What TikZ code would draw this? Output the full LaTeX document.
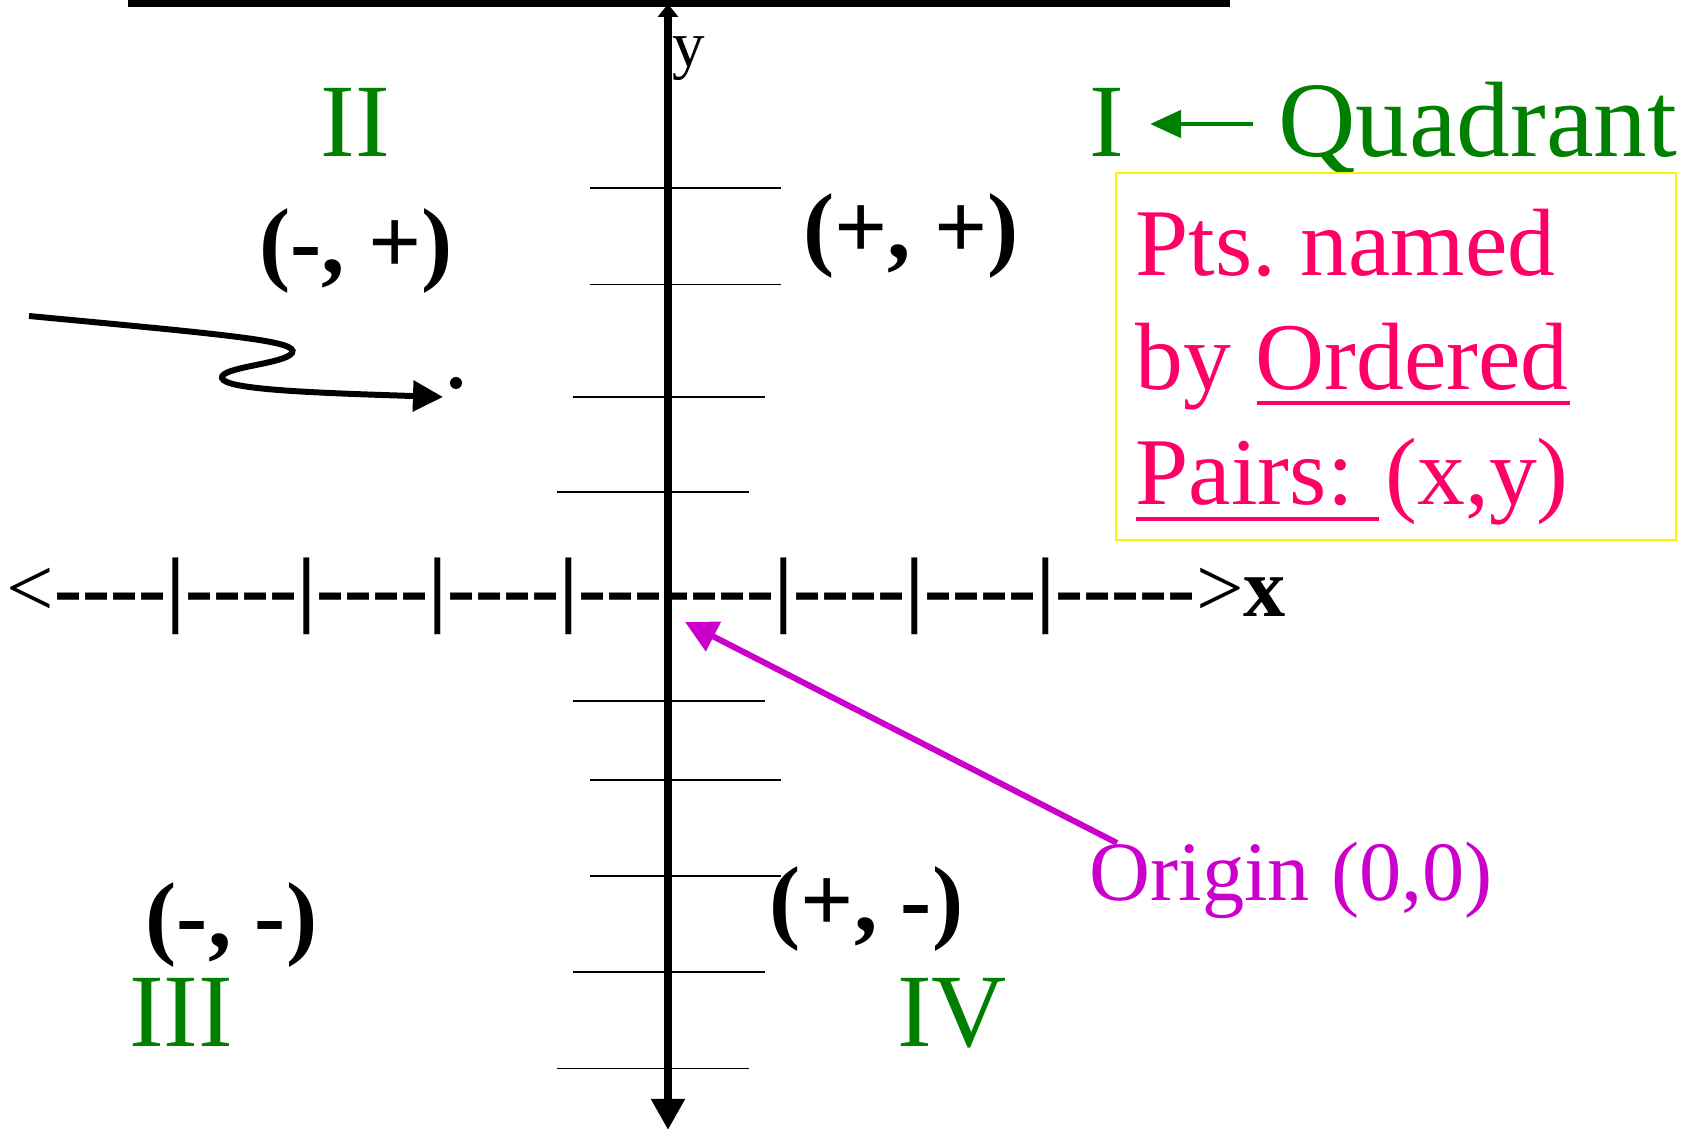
\documentclass[tikz,border=0pt]{standalone}
\usepackage{fontspec}
\setmainfont{Liberation Serif}[Ligatures=TeXOff]
\usetikzlibrary{arrows.meta}
\definecolor{quadgreen}{HTML}{008000}
\definecolor{notepink}{HTML}{FF0066}
\definecolor{originmag}{HTML}{CC00CC}

\begin{document}
\begin{tikzpicture}[x=0.01cm, y=-0.01cm,
  rung/.style={line width=0.55pt},
  quad/.style={text=quadgreen, inner sep=0pt, anchor=base,
    font=\fontsize{29.6}{34}\selectfont},
  sign/.style={inner sep=0pt, anchor=base,
    font=\fontsize{26.6}{32}\selectfont\bfseries},
  note/.style={text=notepink, inner sep=0pt, anchor=base west,
    font=\fontsize{27.2}{32}\selectfont}]
  \useasboundingbox (0,0) rectangle (1696,1131);
  \coordinate (Ytop) at (668,4);
  \coordinate (Ybot) at (668,1130);
  \coordinate (O) at (685,622);
  \coordinate (Otail) at (1117,843);
  \coordinate (Sq0) at (29,316);
  \coordinate (Sq1) at (443,397);
  % short rungs across the y axis
  \foreach \yy/\xa/\xb in {188/590/781, 284.5/590/781, 397/573/765,
      492/557/749, 701/573/765, 780/590/781, 876/590/781,
      972/573/765, 1068.5/557/749}
    \draw[rung] (\xa,\yy) -- (\xb,\yy);
  \draw[line width=2.3pt,
    {Triangle[length=3.1mm,width=3.2mm]}-{Triangle[length=1.3mm,width=2mm]}]
    (Ybot) -- (Ytop);
  \draw[line width=1.9pt] (128,3.4) -- (1230,3.4);
  % x axis is typed
  \node[anchor=base west, inner sep=0pt,
    font=\fontsize{24}{28}\selectfont\bfseries] (xaxis) at (6,617)
    {\mdseries<\bfseries----|----|----|----|-------|----|----|-----\mdseries>\bfseries x};
  \node[anchor=base west, inner sep=0pt,
    font=\fontsize{18.5}{22}\selectfont] (ylbl) at (672,67) {y};
  \node[quad] (q2) at (355,157) {II};
  \node[quad] (q3) at (181,1047) {III};
  \node[quad] (q4) at (952,1047) {IV};
  \node[quad, anchor=base west] (q1) at (1089,157) {I};
  \node[quad, anchor=base east, font=\fontsize{30.5}{34}\selectfont] (qword)
    at (1678,157) {Quadrant};
  \draw[quadgreen, line width=1.4pt, -{Triangle[length=3.1mm,width=2.7mm]}]
    ([xshift=-0.25cm]qword.west |- 0,124) -- ([xshift=0.25cm]q1.east |- 0,124);
  \node[sign] (s2) at (356,274) {(-, +)};
  \node[sign] (s1) at (911,259) {(+, +)};
  \node[sign] (s3) at (231.5,948) {(-, -)};
  \node[sign] (s4) at (866.5,932) {(+, -)};
  % note box
  \draw[yellow, line width=0.6pt] (1116,173) rectangle (1676,540);
  \node[note] (n1) at (1135,276) {Pts.\ named};
  \node[note] (n2) at (1135,390) {by Ordered};
  \node[note] (n3) at (1135,505) {Pairs: (x,y)};
  \draw[notepink, line width=1.4pt] (1257,403) -- (1570,403);
  \draw[notepink, line width=1.4pt] (1136,519) -- (1379,519);
  % origin
  \node[anchor=base west, inner sep=0pt, text=originmag,
    font=\fontsize{24}{28}\selectfont] (orig) at (1089,901) {Origin (0,0)};
  \draw[originmag, line width=1.7pt, -{Triangle[length=3.2mm,width=3.2mm]}]
    (Otail) -- (O);
  % squiggle to a point
  \draw[line width=1.7pt, -{Triangle[length=3mm,width=3mm]}]
    (Sq0) .. controls (230,335) and (300,341) .. (292,353)
    .. controls (285,364) and (220,367) .. (222,378)
    .. controls (224,390) and (320,393) .. (Sq1);
  \fill (456,383) circle (6);
\end{tikzpicture}
\end{document}
